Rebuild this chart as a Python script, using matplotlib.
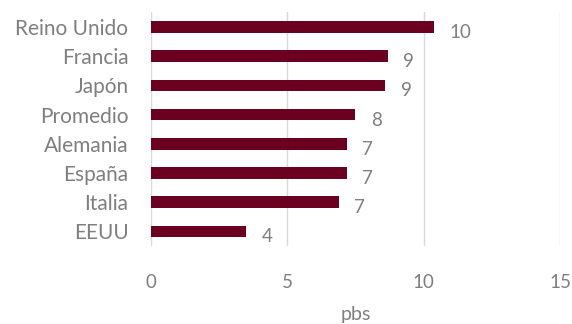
import matplotlib.pyplot as plt

# datos (pbs)
paises = ['Reino Unido', 'Francia', 'Japón', 'Promedio', 'Alemania', 'España', 'Italia', 'EEUU']
valores = [10.4, 8.7, 8.6, 7.5, 7.2, 7.2, 6.9, 3.5]
etiquetas = ['10', '9', '9', '8', '7', '7', '7', '4']
ticks_x = [0, 5, 10, 15]

plt.rcParams['font.family'] = ['Lato', 'DejaVu Sans']
gris = '#7f7f7f'
color_barra = '#6B0020'

fig = plt.figure(figsize=(5.72, 3.24), dpi=100)
ax = fig.add_axes([0.2635, 0.2407, 0.7155, 0.721])

pos = list(range(len(paises)))
ax.barh(pos, valores, height=0.4, color=color_barra, zorder=3)
ax.set_ylim(len(paises) - 0.5, -0.5)
ax.set_xlim(0, 15)

for p, v, t in zip(pos, valores, etiquetas):
    ax.annotate(t, (v, p), xytext=(11, -4), textcoords='offset points',
                ha='left', va='center', fontsize=13.5, color=gris)

ax.set_yticks(pos)
ax.set_yticklabels(paises, fontsize=15, color=gris)
ax.set_xticks(ticks_x)
ax.set_xticklabels([str(t) for t in ticks_x], fontsize=13.5, color=gris)
ax.tick_params(axis='x', length=0, pad=20)
ax.tick_params(axis='y', length=0, pad=16)
ax.set_xlabel('pbs', fontsize=14, color=gris, labelpad=11)

ax.grid(axis='x', color='#d9d9d9', linewidth=1, zorder=0)
for s in ax.spines.values():
    s.set_visible(False)

fig.savefig('out.png', dpi=100)
